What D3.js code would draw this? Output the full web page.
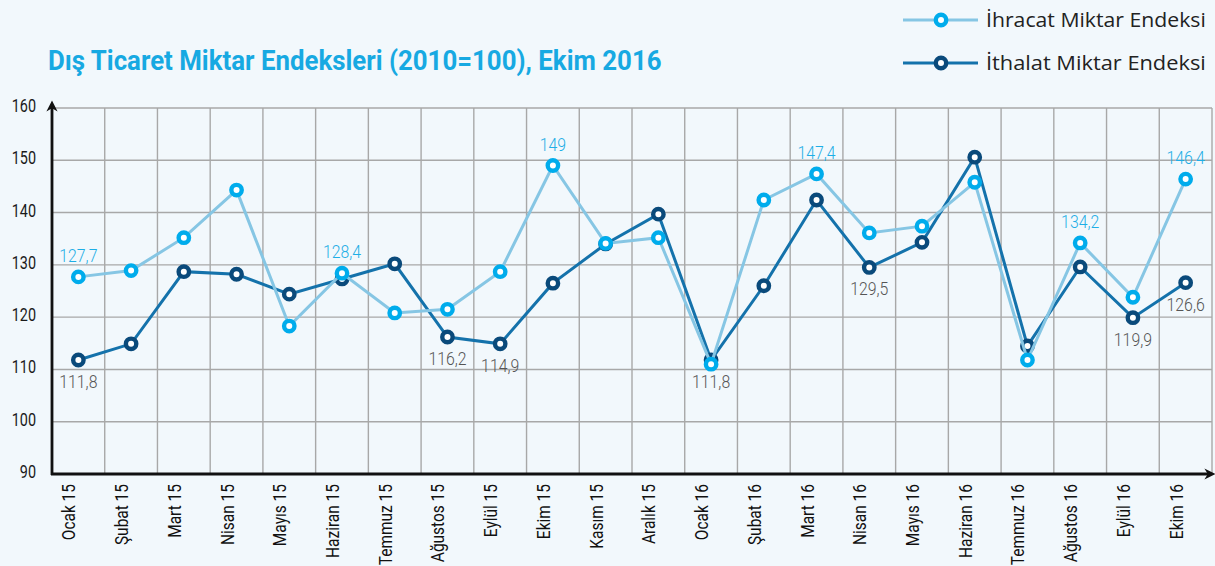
<!DOCTYPE html>
<html><head><meta charset="utf-8">
<script src="https://cdn.jsdelivr.net/npm/d3@7"></script>
<style>
html,body{margin:0;padding:0;background:#f2f8fc;}
svg{display:block;}
</style></head>
<body>
<svg id="c" width="1215" height="566"></svg>
<script>
const categories = ["Ocak 15","Şubat 15","Mart 15","Nisan 15","Mayıs 15","Haziran 15","Temmuz 15","Ağustos 15","Eylül 15","Ekim 15","Kasım 15","Aralık 15","Ocak 16","Şubat 16","Mart 16","Nisan 16","Mayıs 16","Haziran 16","Temmuz 16","Ağustos 16","Eylül 16","Ekim 16"];
const ihracat = [127.7,128.9,135.2,144.3,118.3,128.4,120.8,121.5,128.7,149,134.1,135.2,111.0,142.4,147.4,136.1,137.4,145.8,111.8,134.2,123.8,146.4];
const ithalat = [111.8,114.9,128.7,128.2,124.4,127.3,130.2,116.2,114.9,126.5,134.0,139.7,111.8,126.0,142.4,129.5,134.3,150.6,114.5,129.6,119.9,126.6];
const ihracatLabelIdx = [0,5,9,14,19,21];
const ithalatLabelIdx = [0,7,8,12,15,20,21];
const yTicks = [90,100,110,120,130,140,150,160];
const seriesNames = ["İhracat Miktar Endeksi","İthalat Miktar Endeksi"];
const titleText = "Dış Ticaret Miktar Endeksleri (2010=100), Ekim 2016";

(function(){
const svg = d3.select("#c");
const FONT = "Roboto,'Open Sans',sans-serif";
const pL = 52, pR = 1212, pT = 108, pB = 474;

const x = d3.scaleBand().domain(categories).range([pL, pR]).padding(0);
const y = d3.scaleLinear().domain([90,160]).range([pB, pT]);
const cx = d => x(d) + x.bandwidth()/2;

// condensed text helper: horizontal compression via transform
function ctext(parent, px, py, str, o){
  const rot = o.rotate ? ` rotate(${o.rotate})` : "";
  const t = parent.append("text")
    .attr("transform", `translate(${px},${py})${rot} scale(${o.sx||1},1)`)
    .attr("text-anchor", o.anchor||"start")
    .attr("font-family", o.family||FONT).attr("font-size", o.size)
    .attr("font-weight", o.weight||"normal").attr("fill", o.fill||"#111").text(str);
  if(o.width){
    const w = t.node().getComputedTextLength();
    t.attr("transform", `translate(${px},${py})${rot} scale(${o.width/w},1)`);
  }
  return t;
}

svg.append("rect").attr("width",1215).attr("height",566).attr("fill","#f2f8fc");

// grid
const grid = svg.append("g").attr("stroke","#a8a8a8").attr("stroke-width",1.4);
yTicks.filter(t=>t>90).forEach(t=>{
  grid.append("line").attr("x1",pL).attr("x2",pR).attr("y1",y(t)).attr("y2",y(t));
});
categories.forEach((c,i)=>{
  if(i>0) grid.append("line").attr("x1",x(c)).attr("x2",x(c)).attr("y1",pT).attr("y2",pB);
});
grid.append("line").attr("x1",pR).attr("x2",pR).attr("y1",pT).attr("y2",pB);

// axes lines with arrows
const defs = svg.append("defs");
defs.append("marker").attr("id","arr").attr("viewBox","0 0 10 10").attr("refX",5).attr("refY",5)
  .attr("markerWidth",4).attr("markerHeight",4).attr("orient","auto")
  .append("path").attr("d","M0,0 L10,5 L0,10 L3,5 Z").attr("fill","#111");
svg.append("line").attr("x1",pL).attr("x2",pL).attr("y1",pB+1).attr("y2",pT-2)
  .attr("stroke","#111").attr("stroke-width",2.8).attr("marker-end","url(#arr)");
svg.append("line").attr("x1",pL-1).attr("x2",1210).attr("y1",pB).attr("y2",pB)
  .attr("stroke","#111").attr("stroke-width",2.8).attr("marker-end","url(#arr)");

// y tick labels
const gy = svg.append("g");
yTicks.forEach(d=>ctext(gy, 36, y(d)+4, d, {size:18, sx:0.8, anchor:"end", fill:"#1a1a1a"}));

// x tick labels
const gx = svg.append("g");
categories.forEach(d=>ctext(gx, cx(d)-3, 484, d, {size:18, sx:0.86, anchor:"end", rotate:-90, fill:"#111"}));

// series
const lightLine = "#86c6e4", lightMark = "#00acec";
const darkLine = "#1472ab", darkMark = "#0a4a7b";
const line = d3.line().x((d,i)=>cx(categories[i])).y(d=>y(d));

function drawSeries(vals, lc, mc){
  svg.append("path").datum(vals).attr("d",line).attr("fill","none").attr("stroke",lc).attr("stroke-width",3);
  svg.append("g").selectAll("circle").data(vals).join("circle")
    .attr("cx",(d,i)=>cx(categories[i])).attr("cy",d=>y(d)).attr("r",5.2)
    .attr("fill","#fff").attr("stroke",mc).attr("stroke-width",4.4);
}
drawSeries(ithalat, darkLine, darkMark);
drawSeries(ihracat, lightLine, lightMark);

const fmt = v => String(v).replace(".",",");
const gl = svg.append("g");
ihracatLabelIdx.forEach(i=>ctext(gl, cx(categories[i]), y(ihracat[i])-15, fmt(ihracat[i]),
  {size:18, sx:0.88, anchor:"middle", fill:"#1eaee6", weight:300}));
ithalatLabelIdx.forEach(i=>ctext(gl, cx(categories[i]), y(ithalat[i])+28, fmt(ithalat[i]),
  {size:18, sx:0.88, anchor:"middle", fill:"#555", weight:300}));

// title
ctext(svg, 48, 70, titleText, {size:27, weight:"bold", fill:"#17a9e2", width:614});

// legend
const legend = [
  {name:seriesNames[0], lc:lightLine, mc:lightMark, y:20},
  {name:seriesNames[1], lc:darkLine, mc:darkMark, y:63}
];
legend.forEach(l=>{
  svg.append("line").attr("x1",903).attr("x2",978).attr("y1",l.y).attr("y2",l.y).attr("stroke",l.lc).attr("stroke-width",3);
  svg.append("circle").attr("cx",941).attr("cy",l.y).attr("r",5.2).attr("fill","#fff").attr("stroke",l.mc).attr("stroke-width",4.4);
  ctext(svg, 986, l.y+7, l.name, {size:20, family:"'Open Sans',Roboto,sans-serif", fill:"#222", width:220});
});
})();
</script>
</body></html>
